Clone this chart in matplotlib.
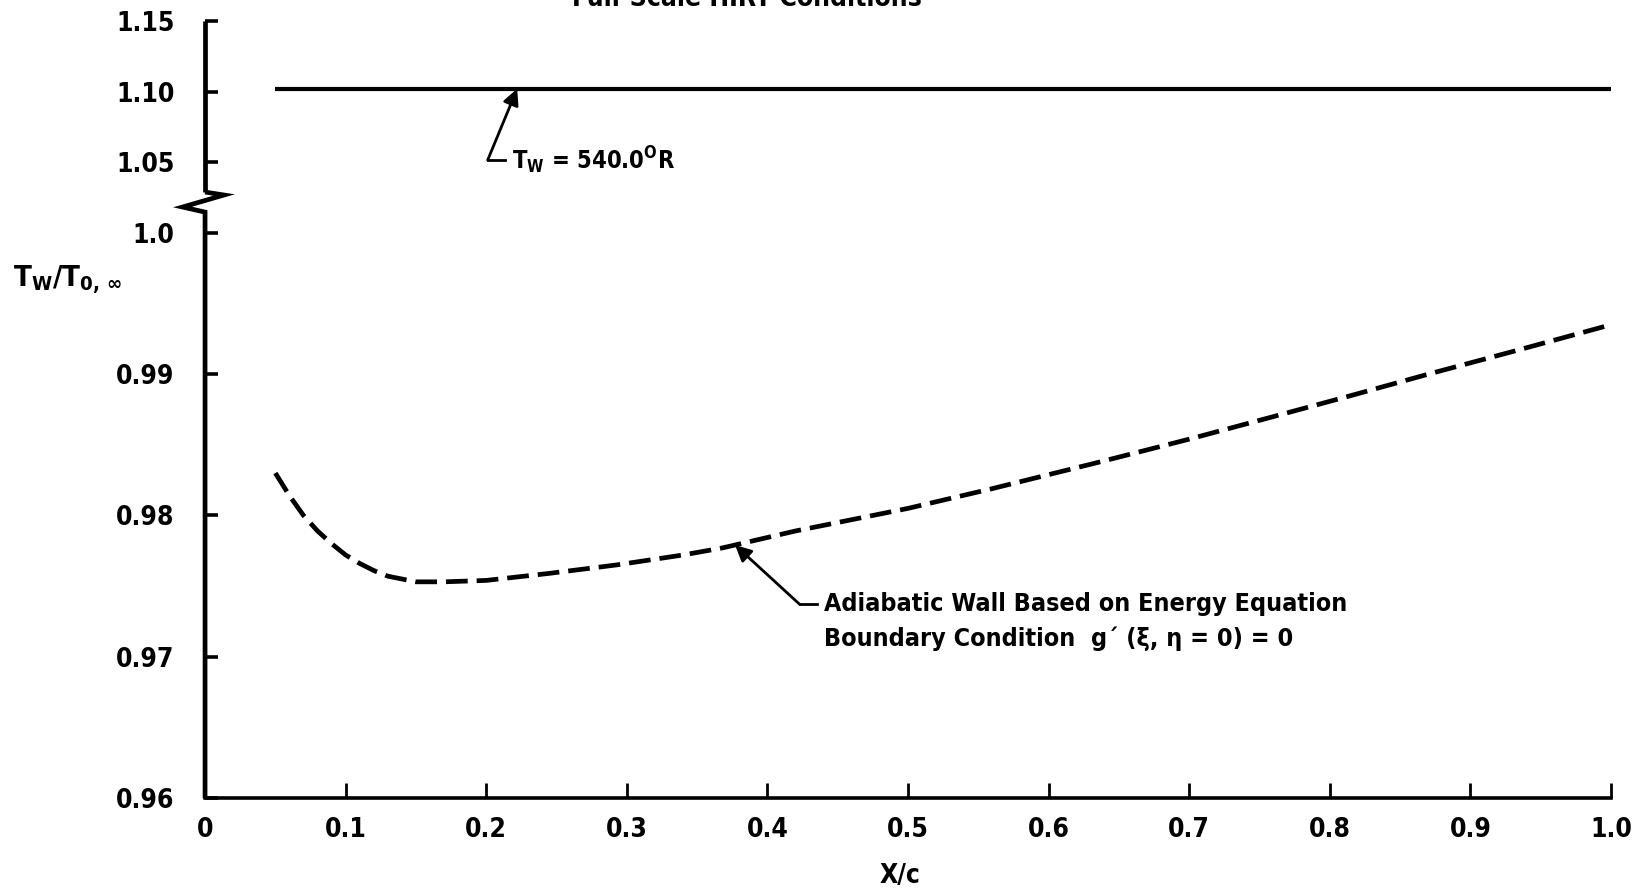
import numpy as np
import matplotlib
matplotlib.use("Agg")
import matplotlib.pyplot as plt
import matplotlib.transforms as mtransforms

plt.rcParams['font.family'] = ['DejaVu Sans']
plt.rcParams['font.stretch'] = 'condensed'
plt.rcParams['font.weight'] = 'bold'
plt.rcParams['mathtext.fontset'] = 'custom'
plt.rcParams['mathtext.rm'] = 'DejaVu Sans:stretch=condensed:weight=bold'
plt.rcParams['mathtext.it'] = 'DejaVu Sans:stretch=condensed:weight=bold'

# wall temperature ratio for the fixed-temperature wall
x_cold = [0.05, 1.0]
tw_cold = [1.102, 1.102]

# adiabatic wall solution
x_adiabatic = [0.05, 0.06, 0.07, 0.08, 0.09, 0.10, 0.11, 0.12, 0.13, 0.14,
               0.15, 0.16, 0.17, 0.20, 0.245, 0.293, 0.340, 0.368, 0.420,
               0.500, 0.560, 0.637, 0.700, 0.760, 0.812, 0.870, 0.930, 1.0]
tw_adiabatic = [0.9830, 0.9814, 0.9800, 0.9789, 0.9780, 0.9772, 0.9766,
                0.9761, 0.9757, 0.9755, 0.9753, 0.9753, 0.9753, 0.9754,
                0.9759, 0.9765, 0.9772, 0.9777, 0.9789, 0.9805, 0.9819,
                0.9838, 0.9854, 0.9870, 0.9884, 0.9900, 0.9916, 0.9935]

x_ticks = [0, 0.1, 0.2, 0.3, 0.4, 0.5, 0.6, 0.7, 0.8, 0.9, 1.0]
x_labels = ['0', '0.1', '0.2', '0.3', '0.4', '0.5', '0.6', '0.7', '0.8', '0.9', '1.0']
y_ticks = [0.96, 0.97, 0.98, 0.99, 1.0, 1.05, 1.10, 1.15]
y_labels = ['0.96', '0.97', '0.98', '0.99', '1.0', '1.05', '1.10', '1.15']


# above 1.0 the axis is compressed ten times
def fwd(y):
    y = np.asarray(y, dtype=float)
    return np.where(y <= 1.0, y, 1.0 + (y - 1.0) / 10.0)


def inv(t):
    t = np.asarray(t, dtype=float)
    return np.where(t <= 1.0, t, 1.0 + (t - 1.0) * 10.0)


fig = plt.figure(figsize=(16.51, 8.96), dpi=100)
ax = fig.add_axes([0.1242, 0.1094, 0.8516, 0.8672])
ax.set_yscale('function', functions=(fwd, inv))
ax.set_xlim(0, 1.0)
ax.set_ylim(0.96, 1.15)

ax.plot(x_cold, tw_cold, color='black', lw=3.0, solid_capstyle='butt')
ax.plot(x_adiabatic, tw_adiabatic, color='black', lw=3.4,
        dashes=(4.6, 1.9), dash_capstyle='butt')

for side in ['top', 'right', 'left']:
    ax.spines[side].set_visible(False)
ax.spines['bottom'].set_linewidth(2.6)

# left axis line with a break between 1.0 and 1.05
bl = mtransforms.blended_transform_factory(ax.transAxes, ax.transData)
ax.plot([0, 0], [1.15, 1.0289], color='black', lw=3.4, transform=bl,
        clip_on=False, solid_capstyle='butt')
ax.plot([0, 0.0135, -0.016, 0, 0], [1.0289, 1.0268, 1.0183, 1.0147, 0.96],
        color='black', lw=3.4, transform=bl, clip_on=False,
        solid_joinstyle='miter', solid_capstyle='butt')

ax.set_xticks(x_ticks)
ax.set_xticklabels(x_labels)
ax.set_yticks(y_ticks)
ax.set_yticklabels(y_labels)
ax.yaxis.set_minor_locator(matplotlib.ticker.NullLocator())
ax.tick_params(axis='x', direction='in', length=11, width=2.0, pad=14,
               labelsize=19)
ax.tick_params(axis='y', direction='in', length=9.5, width=2.6, pad=22,
               labelsize=19)

ax.text(0.494, -0.1, 'X/c', transform=ax.transAxes, ha='center', va='center',
        fontsize=19)
fig.text(0.008, 1 - 279 / 896, r'T$_{\rm W}$/T$_{\rm 0,\,\infty}$',
         ha='left', va='center', fontsize=21)
fig.text(0.4525, 1 - 6 / 896, 'Full-Scale HIRT Conditions', ha='center',
         va='baseline', fontsize=19)

# annotation for the constant wall temperature line
ax.annotate('', xy=(0.222, 1.102), xytext=(0.201, 1.0515),
            arrowprops=dict(arrowstyle='-|>', color='black', lw=2.0,
                            mutation_scale=24, shrinkA=0, shrinkB=0))
ax.plot([0.201, 0.213], [1.0515, 1.0515], color='black', lw=2.0)
ax.text(0.218, 1.0515, r'T$_{\rm W}$ = 540.0$^{\rm O}$R', ha='left',
        va='center', fontsize=17)

# annotation for the adiabatic wall curve
ax.annotate('', xy=(0.377, 0.9779), xytext=(0.423, 0.9737),
            arrowprops=dict(arrowstyle='-|>', color='black', lw=2.0,
                            mutation_scale=24, shrinkA=0, shrinkB=0))
ax.plot([0.423, 0.435], [0.9737, 0.9737], color='black', lw=2.0)
ax.text(0.440, 0.9737, 'Adiabatic Wall Based on Energy Equation', ha='left',
        va='center', fontsize=18)
ax.text(0.440, 0.9713, 'Boundary Condition  g\u00b4 (\u03be, \u03b7 = 0) = 0',
        ha='left', va='center', fontsize=18)

fig.savefig('out.png', dpi=100)
